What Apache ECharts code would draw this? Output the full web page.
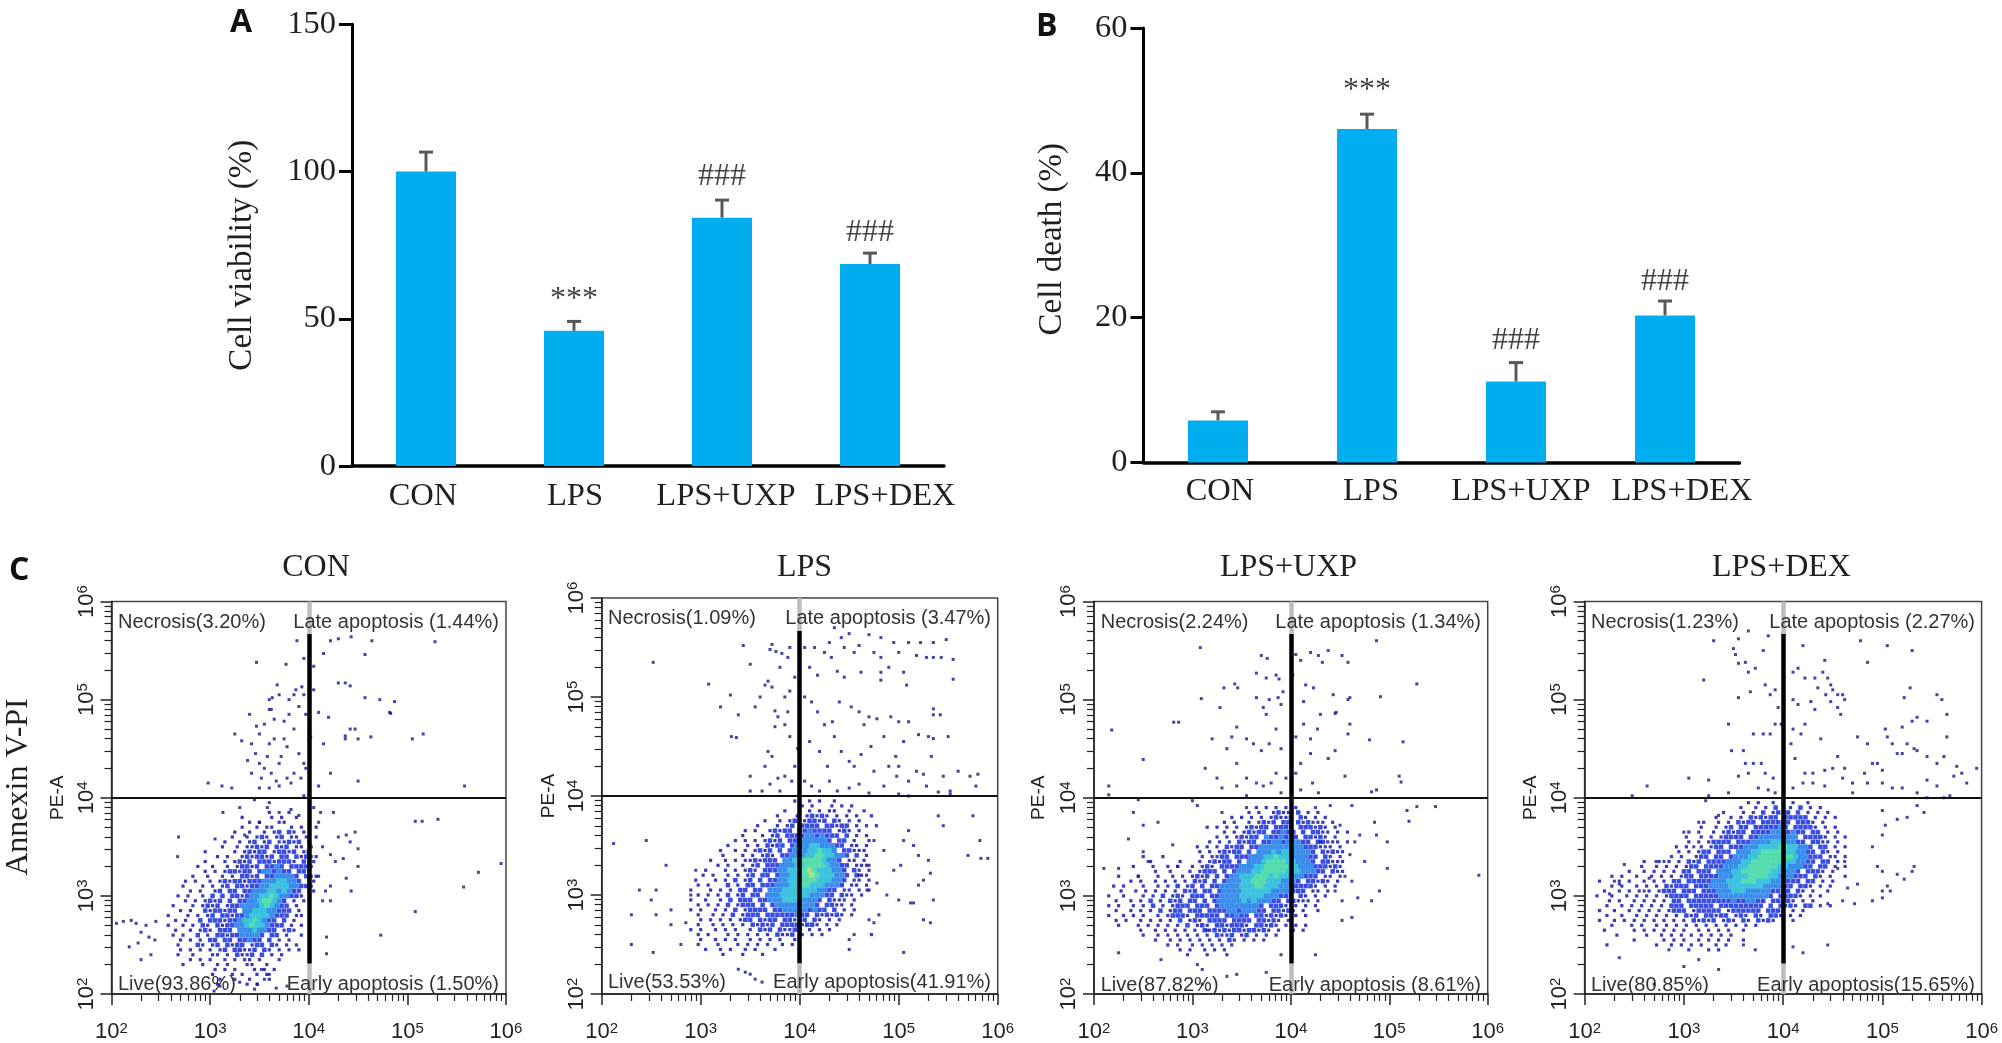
<!DOCTYPE html>
<html><head><meta charset="utf-8">
<style>html,body{margin:0;padding:0;background:#fff}#c{width:2002px;height:1043px}</style>
<script src="https://cdn.jsdelivr.net/npm/echarts@6/dist/echarts.min.js"></script>
</head><body><div id="c"></div>
<script>
const groups = ['CON','LPS','LPS+UXP','LPS+DEX'];
const viabilityMean = [100,45.9,84.3,68.6];
const viabilityUpper = [106.6,49.1,90.3,72.3];
const viabilitySig = ['', '***','###','###'];
const viabilitySigAt = [0,56.5,98.3,79.4];
const deathMean = [5.8,46.05,11.2,20.3];
const deathUpper = [7.0,48.1,13.8,22.3];
const deathSig = ['', '***','###','###'];
const deathSigAt = [0,51.3,16.9,25];

const necrosis = ['3.20','1.09','2.24','1.23'];
const late = ['1.44','3.47','1.34','2.27'];
const live = ['93.86','53.53','87.82','80.85'];
const early = ['1.50','41.91','8.61','15.65'];
const earlyGap = [' ','',' ',''];

// binned density: one string per row, level per 0.05-decade hex cell
const conStart = [2.5,3.85];
const conRaster = [
"......................1...1.....",
"................1.....1.1..1....",
"..................1.1...11......",
"................1..1.11...1.1..1",
"...............1..1..1.12.21.1..",
"..............1..1.121.12.11.1.1",
".............1..1.12.12.11212.1.",
"............1..1.11212.212.11.1.",
".........1.....1.12122.12212.12.",
"...........1.1..1212212.22.21211",
".........1...1.1212.22212221.211",
".......1..1..1.12212.2232.22221.",
".........1.1.122122.2332322.221.",
"......1..1..1.1.2212.2233332.211",
".....1.1..1.12122122233344332.11",
"....1...1.1.12.2212233444433221.",
"......1.1..12.22.223334434322.11",
"...1.1..1.2.2.221233445433221...",
".....1.1.1212.2.2233455432.1.1..",
"..1...1.1212.1223333454322.1....",
"....1.1..2122122.3344433222.1...",
".1...1.1.12.22122344443222.11...",
"...1.1..2.22212234454322.2.1....",
".1..1.1.21.21223345443222.1.1...",
"...1..1.121.222.33343322.121....",
"..1.1..2.1.2212233332.22.1..1...",
"....1.1.1.22.22.22322.2.1.1.....",
"...1...21.12.2122.122.21.1.1....",
"....1.1.1.1.12.22112.21.1.1.1...",
"...1..1...11.1.2112.2.1.1.......",
"......1.1.1..1.1.11.1...1.......",
"....1...1..1.1...11..1..........",
"...........1.1.1...1.1.1........",
"..........1...1.1..1.1..........",
"............1..1..1...1.........",
"...........1.....1.1............"];
const lpsStart = [2.8,3.95];
const lpsRaster = [
".......................1..1.1..1.......",
"........................1.1...1.1.1....",
".....................1..1.1.1.11..1..1.",
"...................1...1.12121.1.1.1..1",
".................1..1.12.12212.21.1.1..",
"...............1...1.12.2222.22122.1.1.1",
".............1.1..12122.2232222.121.1..",
"............1...1.12.22223323222.2.1.1.",
"...........1.1.1.1212.223333332.22.1..1",
".........1...1.1.2122.23334433322.11.1.",
"........1..1.1.1212.2.2333445443.22111.",
"........1...1.1.121.22333445544332.2.1.",
"......1..1.1.1121222.334455554332.11.1.",
".......1.1..1.12.22233344555543322.111.",
".....1...1.1.121.22233445565444332.21.1",
"....1.1..1.1.12.22.233445565444332.211.",
"...1...1.1.2.12.2.2233445555444332.11.1",
"...1.1...2.1.22.22233344554443332.11.1.",
"..1...1.1.1.22.22.33344454443322.11.1.1",
"...1.1.1.2.12.22.33344444433322.211.1..",
"..1..1..1.2.222.2233344443332.2111.1...",
"...1.1.1.2.1222.2.2333333332.2211.1....",
"..1.1..1.1.2.12222.22333332322.2.1.1...",
"...1..1.1.2.1222.222222322.212121.1....",
"....1.1.1.1.122.2122.22122.21.1.1......",
"...1..1.1.1.1.21212.22221221.1.1.......",
"..1.1..1.1.1..1.212.21122.1.1.1........",
"...1.1...1.1.1.1.1.2112.1.1.1.........1",
"....1..1.1.1..1.1.1.1..1...............",
"...1...1...1.1.1.1..1.1................",
".....1..1.1..1.1...1...................",
"........1...1...1......................"];
const uxpStart = [2.1,3.90];
const uxpRaster = [
"...............................1.1.1.1.1........",
".............................1.1..1211.2.1.1.....",
"..........................1.1.1.1.12112.21.1.1...",
"........................1.1..1.1212.22.212111.1..",
".....................1.1.1.1.12122.2222.222121.1.",
"........................1.1.12122.22322.2.2211.1.1",
".......................1.1.12122.3223232.22121.1.",
".....................1.1.1.2122.2233233322.22111.1",
"...................1.1.1.2122.22333333333222111.1",
"...................1.1.12122.2.333434433332.21211.",
"........1...1.......1.1122.22233344544433322.21.1.",
".........1.....1...1.12122.2.33345555443332.22111.",
"......1...1..1.1..1.121.2222333445555544333222121.",
"..........1..1...1.1222.2.2333445555544433322.211.",
"...1...1...1..1.1.1212.2.2334445554544333222.11.1.",
".....1.1..1.1.1.1.212.2.2333445554443332.22121.1..",
"..1.1...1..1.1.2.12.2.2233334445544433322221.1.1..",
"...1..1.1.1.1.1.212.22.233334444443333222.11.1....",
".1..1...1.1.2.121.222.22333344444333222.21.1.1....",
"..1..1.1.2.1.212.22.2.23333343433322.22111.1......",
".1.1..1.1.2.1.1222.222.2333333332.222111.1.1......",
"..1..1.1.1.2.122.222.222233233322.22121.1..1......",
".1..1.1.1..1.12221.22222.22322.2212121.1.1........",
"..1.1..1.1.1.1.2.121.2222.2222.22121.1............",
"...1...1.1.1.1.1.2.121.2212221.22121.1.1.1........",
".......1..1.1.1.1.1.21212122122121.1..1.1.........",
"........1..1.1.1.1.1.1.2112.12.1.1.1..............",
"..........1..1.1.1.1.1.1.21.1.1.1.................",
".............1.1..1.1.1.1.1.......................",
"...............1.1..1.1.1.........................",
".................1...1...1........................"];
const dexStart = [2.1,3.95];
const dexRaster = [
"...............................1.1..1.1.1..1......",
".............................1..1.1.2..1.2.1.1.....",
"..........................1...1.1.2.12.2.2.1.1.1..",
"........................1..1.1.212122.22222.1.1.1.",
"......................1..1.1.2122.222222.2221.1...",
".....................1..1.12.22.2222232.22221.1.1.",
"...................1.1..1.12122.22223332322.22.1.1.",
"..................1..1.1.12222.2233333333.22221.1.1",
"...................1.1.12222.22233334433322.2211.1.",
"................1.1..1.122.22233344445544332.22.1.1",
".................1.1.122.222.3334455555443322.21.1",
"...............1.1..122.22.2333445555555433222.11.1",
"..........1..1.1.1.212.2222333445555555443322.22.1.",
".........1..1.1.1.122.2222333445555554433322.22.1.1",
".......1..1.1.1.1.22.222.33344555555443332.2221.1..",
"...1.1..1..1.1.1.122.2222333444555544333222.21.1..1",
".1...1.1..1.1.1.22.22222333444555444333222.22.1.1..",
"...1.1..1.1.1.21222.22233334444444333322.221.1.1...",
"..1..1.1.1.1.1222.222.222333444333332222.21.1..1...",
"1..1..1.1.1.1.12222.2222233333333332.22221.1.1.....",
"...1.1..1.1.1.1.22.2222222223223322.22221.1.1......",
"..1..1.1.1.1.1.222.22222.222222222.2.2121.22.1.1...",
".1..1..1.1.1.1.1222.122222.1222222.2221.1.1........",
"..1..1..1.1.1.1.1.212.22122.121.21.221.1.1.........",
".1..1.1.1.1.1.1.1.1.21212.121.21.2121.1.1..........",
"...1...1.1..1.1.1.1.1.1.1.1.1.1.1..................",
"..1.....1.1.1.1.1.1..1.1.1.1..1....................",
"....1.....1..1.1.1.1.1.1.1.1.......................",
"........1.....1.1.1..1.1.1.1..1....................",
"..1.........1..1.1.1.1..1.1........................",
"...................1...1.1........................."];

// sparse events: [log10 x, log10 y]
const conDots = [[3.47,5.38],[3.77,5.36],[3.87,5.1],[3.95,5.42],[3.88,5.6],[4.15,5.47],[4.05,5.34],[4.22,5.6],[4.3,5.62],[4.43,5.64],[4.64,5.6],[5.28,5.59],[4.57,5.46],[4.3,5.17],[4.37,5.17],[4.42,5.14],[4.57,5.02],[4.72,5.0],[4.87,4.98],[3.6,5.0],[3.63,5.02],[3.68,5.15],[3.7,5.05],[3.8,5.0],[3.85,5.05],[3.93,5.13],[3.95,5.05],[4.05,5.1],[3.4,4.85],[3.47,4.73],[3.6,4.9],[3.65,4.8],[3.75,4.78],[3.8,4.85],[3.9,4.93],[3.97,4.85],[4.1,4.87],[4.2,4.82],[4.42,4.7],[4.5,4.6],[4.47,4.7],[4.63,4.62],[5.05,4.6],[5.16,4.65],[3.25,4.65],[3.32,4.58],[3.42,4.55],[3.5,4.65],[3.6,4.55],[3.65,4.6],[3.75,4.6],[3.85,4.7],[3.9,4.45],[3.97,4.3],[4.02,4.62],[4.15,4.55],[4.22,4.25],[4.37,4.6],[4.37,4.63],[3.38,4.38],[3.42,4.25],[3.5,4.35],[3.55,4.3],[3.62,4.25],[3.7,4.35],[3.78,4.2],[3.85,4.25],[3.95,4.35],[4.1,4.12],[4.5,4.17],[5.58,4.12],[2.98,4.15],[3.12,4.12],[3.22,4.1],[3.5,4.1],[3.6,4.1],[3.7,4.12],[3.82,4.15],[3.95,4.02],[4.83,4.86],[4.82,4.87],[3.62,4.9],[3.55,4.75],[3.78,4.52],[3.72,4.42],[3.58,4.42],[3.46,4.45],[3.52,4.2],[3.67,4.17],[3.92,4.2],
[5.08,3.76],[5.15,3.76],[5.31,3.78],[5.95,3.33],[5.72,3.24],[5.57,3.09],[5.08,2.84],[4.73,2.6],[4.18,2.58],[4.18,2.41],[4.14,3.5],[4.22,3.42],[4.3,3.6],[4.38,3.62],[4.47,3.65],[4.42,3.55],[4.5,3.48],[4.27,3.35],[4.35,3.38],[4.1,3.2],[4.17,3.05],[4.22,3.1],[4.38,3.18],[4.43,3.05],[4.14,2.95],[4.22,2.95],[4.5,3.3],[4.1,3.75],[4.25,3.85],[4.12,3.85],[4.05,3.9],[3.6,3.95],[3.7,3.85],[3.82,3.88],[3.9,3.82],[3.45,3.98],[3.13,3.85],[3.3,3.9],[3.58,3.9],[3.5,3.75],[3.35,3.62],[2.68,3.6],[2.67,3.4],[3.05,3.58],
[3.04,2.03],[3.1,2.08],[3.45,2.05],[3.48,2.1],[3.55,2.15],[3.67,2.06],[3.6,2.2],[3.52,2.25],[3.3,2.12],[3.78,2.08],[2.05,2.72],[2.12,2.74],[2.2,2.75],[2.3,2.63],[2.25,2.72],[2.35,2.7],[2.44,2.55],[2.38,2.58],[2.45,2.74],[2.18,2.48],[2.27,2.52],[2.4,2.4],[2.3,2.35]];
const lpsDots = [[2.52,5.35],[3.08,5.13],[3.3,5.02],[3.2,4.9],[3.38,4.82],[3.31,4.6],[3.36,4.59],[3.5,5.33],[3.43,5.52],[3.7,5.48],[3.72,5.53],[3.76,5.46],[3.82,5.44],[3.9,5.5],[3.65,5.12],[3.68,5.16],[3.72,5.1],[3.8,5.3],[3.88,5.4],[3.95,5.2],[3.9,5.06],[3.85,5.0],[3.75,4.86],[3.78,4.8],[3.85,4.72],[3.88,4.85],[3.6,5.0],[3.55,4.9],[3.75,4.7],[3.9,4.6],[3.98,4.48],[3.72,4.4],[3.65,4.3],[3.68,4.45],[3.5,4.2],[3.62,4.05],[3.5,4.05],[3.7,4.12],[3.78,4.18],[3.85,4.2],[3.92,4.15],[3.8,4.05],[3.95,4.3],[4.05,5.5],[4.1,5.3],[4.15,5.5],[4.18,5.22],[4.25,5.45],[4.3,5.55],[4.32,5.4],[4.35,5.7],[4.38,5.26],[4.42,5.6],[4.45,5.5],[4.5,5.64],[4.55,5.45],[4.6,5.52],[4.62,5.25],[4.7,5.63],[4.75,5.45],[4.82,5.6],[4.82,5.4],[4.82,5.25],[4.82,5.17],[4.9,5.3],[4.95,5.55],[5.0,5.45],[5.05,5.25],[5.08,5.12],[5.1,5.55],[5.18,5.42],[5.22,5.55],[5.28,5.4],[5.35,5.55],[5.35,5.4],[5.43,5.4],[5.48,5.58],[5.55,5.18],[5.55,5.38],[4.05,5.0],[4.12,4.95],[4.18,4.85],[4.25,4.72],[4.33,4.75],[4.4,4.95],[4.45,5.2],[4.52,4.9],[4.6,4.85],[4.65,4.72],[4.7,4.8],[4.78,4.78],[4.85,4.6],[4.92,4.8],[5.0,4.75],[5.05,4.55],[5.1,4.75],[5.2,4.62],[5.3,4.6],[5.35,4.58],[5.33,4.4],[5.35,4.88],[5.42,4.82],[5.35,4.82],[5.5,4.6],[4.1,4.55],[4.2,4.45],[4.28,4.3],[4.35,4.6],[4.42,4.45],[4.5,4.35],[4.55,4.3],[4.62,4.42],[4.72,4.5],[4.75,4.25],[4.9,4.3],[4.97,4.4],[5.0,4.3],[4.98,4.2],[5.1,4.15],[5.18,4.25],[5.25,4.22],[5.28,4.1],[5.45,4.2],[5.52,4.05],[5.6,4.25],[5.72,4.2],[5.78,4.1],[5.8,4.22],[4.05,4.15],[4.12,4.1],[4.2,4.05],[4.3,4.15],[4.38,4.05],[4.5,4.08],[4.6,4.12],[4.7,4.03],[4.85,4.1],[5.0,4.02],[5.1,4.0],[5.4,4.04],[5.52,4.02],
[5.75,3.8],[5.82,3.55],[5.7,3.4],[5.9,3.37],[5.83,3.37],[5.4,3.8],[5.45,3.7],[5.1,3.65],[5.05,3.55],[5.15,3.5],[5.2,3.4],[5.3,3.35],[5.32,3.22],[5.25,3.15],[5.2,3.1],[4.95,3.25],[5.02,3.3],[4.85,3.45],[4.75,3.55],[4.7,3.3],[4.6,3.2],[4.68,3.05],[4.78,3.12],[4.88,3.0],[5.0,2.95],[5.15,2.92],[5.12,2.92],[5.35,2.95],[5.25,2.75],[5.32,2.72],[4.8,2.8],[4.7,2.75],[4.75,2.72],[4.55,2.6],[4.5,2.45],[4.5,2.55],[5.05,2.42],[2.12,3.52],[2.45,3.55],[2.65,3.3],[2.95,3.25],[2.55,3.05],[2.38,3.05],[2.5,2.95],[2.7,2.85],[2.3,2.8],[2.55,2.8],[2.7,2.7],[2.3,2.5],[2.52,2.42],[2.8,2.5],[2.85,2.72],[2.9,3.0],[3.38,2.25],[3.45,2.22],[3.5,2.2],[3.55,2.15],[3.62,2.12]];
const uxpDots = [[3.08,5.53],[4.87,5.6],[5.28,5.16],[4.91,5.03],[4.45,4.86],[4.46,4.87],[2.81,4.77],[2.86,4.77],[2.18,4.69],[2.5,4.39],[2.15,4.12],[2.15,4.03],[3.09,5.01],[4.8,4.59],[5.14,4.57],[5.1,4.22],[5.12,4.16],[4.82,4.06],[4.87,4.08],[5.91,3.21],[4.98,3.28],[5.47,3.91],[5.28,3.91],[5.18,3.87],[5.2,3.76],[3.7,5.45],[3.76,5.42],[3.65,5.27],[3.32,5.12],[3.43,5.16],[3.46,5.12],[3.65,5.02],[3.75,5.22],[3.85,5.25],[3.88,5.21],[3.92,5.08],[3.87,5.02],[3.78,5.0],[3.75,4.85],[3.72,4.92],[3.9,4.95],[4.02,5.25],[4.05,5.46],[4.1,5.4],[4.2,5.48],[4.28,5.45],[4.38,5.5],[4.32,5.38],[4.58,5.38],[4.52,5.45],[4.23,5.12],[4.15,5.15],[4.43,5.05],[4.13,4.98],[4.3,4.85],[4.58,5.0],[4.6,5.02],[3.28,4.92],[3.45,4.72],[3.4,4.62],[3.35,4.5],[3.2,4.6],[3.45,4.35],[3.55,4.6],[3.62,4.55],[3.7,4.48],[3.78,4.55],[3.85,4.7],[3.9,4.5],[4.05,4.62],[4.13,4.75],[4.2,4.6],[4.27,4.7],[4.1,4.35],[4.2,4.45],[4.38,4.4],[4.45,4.48],[4.58,4.65],[4.6,4.75],[4.55,4.22],[3.13,4.3],[3.25,4.2],[3.3,4.1],[3.45,4.12],[3.55,4.02],[3.65,4.15],[3.72,4.12],[3.8,4.15],[3.85,4.25],[3.95,4.2],[3.55,4.2],[3.9,4.05],[4.05,4.25],[4.1,4.08],[4.22,4.15],[4.28,4.05],[2.45,3.98],[3.0,3.97],
[4.85,3.75],[4.87,3.62],[4.98,3.55],[4.7,3.62],[4.65,3.55],[4.75,3.35],[4.55,3.2],[4.62,3.15],[4.45,3.05],[4.52,2.95],[4.52,2.75],[4.82,2.95],[4.9,3.05],[4.62,2.78],[4.68,2.98],[4.6,3.42],[4.5,3.72],[4.62,3.92],[4.4,3.92],[4.25,3.9],[4.3,3.55],[2.4,3.85],[2.5,3.72],[2.35,3.58],[2.5,3.45],[2.8,3.52],[2.55,3.35],[2.25,3.28],[2.1,3.28],[2.85,3.3],[2.45,3.2],[2.65,3.75],[3.05,3.92],[3.3,3.85],[3.55,3.9],[2.25,2.42],[2.68,2.35],[3.05,2.3],[3.1,2.25],[3.1,2.1],[3.35,2.18],[3.45,2.2],[3.75,2.22],[3.15,2.65],[4.25,2.4],[3.9,2.4]];
const dexDots = [[3.3,5.6],[3.85,5.65],[3.65,5.7],[3.55,5.62],[3.5,5.52],[3.52,5.46],[3.55,5.37],[3.62,5.38],[3.65,5.28],[3.8,5.5],[3.72,5.32],[3.2,5.2],[3.55,5.02],[3.82,5.15],[3.67,5.08],[3.92,5.1],[3.87,5.05],[3.95,4.92],[3.92,4.75],[3.45,4.75],[3.7,4.65],[3.8,4.65],[3.87,4.65],[3.98,4.75],[4.1,5.28],[4.15,5.32],[4.22,5.22],[4.2,5.55],[4.32,5.22],[4.35,5.12],[4.42,5.4],[4.4,5.28],[4.45,5.22],[4.48,5.15],[4.43,5.05],[4.5,5.1],[4.55,5.05],[4.6,5.05],[4.48,4.98],[4.55,4.92],[4.62,5.0],[4.1,5.0],[4.15,4.95],[4.28,4.98],[4.32,4.9],[4.58,4.85],[4.1,4.7],[4.18,4.65],[4.22,4.75],[4.38,4.6],[4.08,4.55],[4.78,5.6],[4.85,5.38],[5.05,5.55],[5.3,5.5],[5.28,5.12],[5.22,5.02],[5.03,4.7],[5.2,4.72],[5.35,4.82],[5.3,4.78],[5.45,4.78],[5.55,5.05],[5.6,5.0],[5.65,4.85],[5.65,4.62],[5.05,4.62],[5.1,4.55],[5.25,4.55],[5.32,4.5],[5.15,4.45],[5.2,4.45],[5.35,4.48],[5.45,4.42],[5.55,4.35],[5.62,4.42],[5.75,4.32],[5.95,4.3],[5.8,4.25],[5.72,4.22],[5.85,4.15],[5.45,4.18],[5.55,4.12],[5.35,4.05],[5.2,4.1],[4.75,4.62],[4.85,4.55],[4.9,4.35],[4.95,4.35],[5.0,4.28],[4.82,4.25],[4.7,4.15],[4.7,4.05],[4.85,4.15],[5.0,4.15],[5.1,4.1],[5.45,4.0],[5.62,4.0],[5.68,4.02],[4.55,4.42],[4.5,4.3],[4.62,4.3],[4.6,4.2],[4.42,4.28],[4.3,4.25],[4.3,4.15],[4.2,4.15],[4.12,4.4],[4.22,4.25],[4.1,4.1],[4.42,4.12],[3.48,4.48],[3.6,4.48],[3.62,4.35],[3.7,4.35],[3.65,4.25],[3.55,4.22],[3.78,4.35],[3.82,4.25],[3.9,4.2],[3.75,4.1],[3.85,4.08],[3.92,4.05],[3.45,4.05],[3.25,4.18],[3.05,4.2],[2.63,4.12],[2.48,4.02],[3.25,4.02],[3.22,3.97],
[5.35,3.92],[5.42,3.85],[5.25,3.8],[5.15,3.78],[5.0,3.87],[5.03,3.72],[5.0,3.62],[4.9,3.5],[4.95,3.3],[5.0,3.25],[5.15,3.22],[5.22,3.17],[5.32,3.3],[5.3,3.25],[5.05,3.1],[5.08,3.05],[5.0,3.05],[4.75,3.12],[4.65,3.08],[4.72,2.92],[4.9,2.95],[5.0,2.98],[4.55,3.28],[4.62,3.35],[4.6,2.95],[4.45,2.92],[2.4,3.32],[2.65,3.18],[2.35,3.12],[2.6,3.05],[2.25,3.02],[2.3,3.15],[2.8,3.35],[2.72,3.35],[3.1,3.5],[3.0,3.65],[3.15,3.75],[3.35,3.82],[3.15,2.35],[3.35,2.25],[2.7,2.1],[2.35,2.37],[2.85,2.45],[4.45,2.5],[4.2,2.42],[4.1,2.48],[3.6,2.5],[3.72,2.45],[3.0,2.28]];

const bandsLateTop = 5.67, bandsEarlyBottom = 2.31;
const panelNames = ['CON','LPS','LPS+UXP','LPS+DEX'];
const decades = [2,3,4,5,6];
const minorVals = [];
decades.slice(0,4).forEach(d=>{for(let m=2;m<=9;m++) minorVals.push(d+Math.log10(m));});
const rasters = [[conStart,conRaster],[lpsStart,lpsRaster],[uxpStart,uxpRaster],[dexStart,dexRaster]];
const dotSets = [conDots,lpsDots,uxpDots,dexDots];

const levelColors = {1:'#0a0aa8',2:'#0820d8',3:'#0870e6',4:'#0cb4d4',5:'#30d49c',6:'#98d850'};
const levelSizes = {1:3.2,2:4.5,3:5,4:5.2,5:5.2,6:5};
function cells(start,rows){
  const out=[];
  rows.forEach((r,j)=>{ for(let i=0;i<r.length;i++){ const ch=r[i]; if(ch!=='.') out.push([start[0]+0.05*(i+(j%2)*0.5),start[1]-0.05*j,+ch]); } });
  return out;
}

const serif='"Liberation Serif","Times New Roman",serif';
const sans='"Liberation Sans",Arial,sans-serif';
const ink='#231f20';

const barPanels=[
 {rect:{left:352,top:24.3,width:592,height:441.7},max:150,interval:50,name:'Cell viability (%)',mean:viabilityMean,up:viabilityUpper,sig:viabilitySig,sigAt:viabilitySigAt,
  labelShift:[-6,2,8,30],gap:93,namePad:[0,20,0,0],cm:14},
 {rect:{left:1143.5,top:28,width:596,height:434.5},max:60,interval:20,name:'Cell death (%)',mean:deathMean,up:deathUpper,sig:deathSig,sigAt:deathSigAt,
  labelShift:[4,8,10,34],gap:75,namePad:[0,0,0,12],cm:12}
];
const flowPanels=[
 {rect:{left:111.5,top:601.5,width:394.5,height:397.5},txt:[118,499,623.5,985.5],title:311,pe:58},
 {rect:{left:601.7,top:598,width:396,height:398},txt:[608,991,619.5,983.5],title:799.5,pe:549},
 {rect:{left:1094,top:601.5,width:393.7,height:397.5},txt:[1100.7,1481,623.5,986.5],title:1283.5,pe:1039},
 {rect:{left:1584.6,top:601.5,width:397,height:397.5},txt:[1591,1975,623.5,986.5],title:1776.5,pe:1531}
];

const grid=[],xAxis=[],yAxis=[],series=[],graphic=[],title=[];
barPanels.forEach((p,k)=>{
  grid.push(Object.assign({},p.rect));
  xAxis.push({type:'category',gridIndex:grid.length-1,
    data:groups.map((g,i)=>({value:g,textStyle:{padding:p.labelShift[i]>=0?[0,0,0,p.labelShift[i]]:[0,-p.labelShift[i],0,0]}})),
    axisLine:{lineStyle:{color:'#000',width:3.5}},axisTick:{show:false},
    axisLabel:{interval:0,margin:p.cm,fontFamily:serif,fontSize:32.5,color:ink}});
  yAxis.push({type:'value',gridIndex:grid.length-1,min:0,max:p.max,interval:p.interval,
    name:p.name,nameLocation:'middle',nameGap:p.gap,nameRotate:90,nameTextStyle:{fontFamily:serif,fontSize:33,color:ink,padding:p.namePad},
    splitLine:{show:false},axisLine:{show:true,lineStyle:{color:'#000',width:3}},
    axisTick:{show:true,length:13,lineStyle:{color:'#000',width:3}},
    axisLabel:{margin:16,fontFamily:serif,fontSize:32.5,color:ink}});
  const gi=grid.length-1;
  series.push({type:'bar',xAxisIndex:gi,yAxisIndex:gi,data:p.mean,barWidth:60,itemStyle:{color:'#00aeef'},z:2});
  series.push({type:'custom',xAxisIndex:gi,yAxisIndex:gi,z:1,
    data:p.mean.map((m,i)=>[i,m,p.up[i]]),
    encode:{x:0,y:[1,2]},
    renderItem:(params,api)=>{
      const a=api.coord([api.value(0),api.value(1)]), b=api.coord([api.value(0),api.value(2)]);
      const st={stroke:'#58595b',lineWidth:3};
      return {type:'group',children:[
        {type:'line',shape:{x1:a[0],y1:a[1],x2:b[0],y2:b[1]},style:st},
        {type:'line',shape:{x1:b[0]-7,y1:b[1],x2:b[0]+7,y2:b[1]},style:st}]};
    }});
  series.push({type:'scatter',xAxisIndex:gi,yAxisIndex:gi,symbolSize:0,z:3,
    data:p.sig.map((s,i)=>({value:[i,p.sigAt[i]],label:{show:!!s,formatter:s}})),
    label:{position:'inside',fontFamily:serif,fontSize:32,color:'#111'}});
});
flowPanels.forEach((p,k)=>{
  grid.push(Object.assign({show:true,borderColor:'#444',borderWidth:1.5,backgroundColor:'#fff'},p.rect));
  const gi=grid.length-1;
  const lab=v=>`{a|10}{s|${v}}`;
  const rich={a:{fontFamily:sans,fontSize:22,color:'#222'},s:{fontFamily:sans,fontSize:15,color:'#222',verticalAlign:'top',lineHeight:22,padding:[0,0,6,0]}};
  const common={type:'value',gridIndex:gi,min:2,max:6,interval:1,splitLine:{show:false},
    axisLine:{show:true,onZero:false,lineStyle:{color:'#222',width:1.5}},
    axisTick:{show:true,length:11,lineStyle:{color:'#222',width:1.5}}};
  xAxis.push(Object.assign({},common,{position:'bottom',axisLabel:{margin:27,formatter:lab,rich}}));
  yAxis.push(Object.assign({},common,{position:'left',axisLabel:{margin:14,rotate:90,formatter:lab,rich},
    name:'PE-A',nameLocation:'middle',nameRotate:90,nameGap:p.rect.left-p.pe-9,nameTextStyle:{fontFamily:sans,fontSize:19,color:'#222'}}));
  xAxis.push(Object.assign({},common,{position:'bottom',axisLine:{show:false},axisLabel:{show:false},
    axisTick:{show:true,length:7,customValues:minorVals,lineStyle:{color:'#222',width:1.2}}}));
  yAxis.push(Object.assign({},common,{position:'left',axisLine:{show:false},axisLabel:{show:false},
    axisTick:{show:true,length:7,customValues:minorVals,lineStyle:{color:'#222',width:1.2}}}));
  const xi=xAxis.length-2, yi=yAxis.length-2;
  const [st,rows]=rasters[k];
  series.push({type:'scatter',xAxisIndex:xi,yAxisIndex:yi,symbol:'rect',z:2,silent:true,
    data:cells(st,rows),
    symbolSize:d=>levelSizes[d[2]],
    itemStyle:{color:q=>levelColors[q.data[2]]}});
  series.push({type:'scatter',xAxisIndex:xi,yAxisIndex:yi,symbol:'rect',symbolSize:3,z:2,silent:true,
    data:dotSets[k],itemStyle:{color:'#14148c'},
    markLine:{silent:true,symbol:'none',label:{show:false},animation:false,z:4,data:[
      [{coord:[4,2],lineStyle:{color:'#bdbdbd',width:4.5,type:'solid'}},{coord:[4,bandsEarlyBottom]}],
      [{coord:[4,bandsEarlyBottom],lineStyle:{color:'#000',width:4.5,type:'solid'}},{coord:[4,bandsLateTop]}],
      [{coord:[4,bandsLateTop],lineStyle:{color:'#bdbdbd',width:4.5,type:'solid'}},{coord:[4,6]}],
      [{coord:[2,4],lineStyle:{color:'#111',width:2,type:'solid'}},{coord:[6,4]}]
    ]}});
  title.push({text:panelNames[k],left:p.title,top:547,textAlign:'center',textStyle:{fontFamily:serif,fontSize:32,fontWeight:'normal',color:ink}});
  const t=p.txt, ts={fontFamily:sans,fontSize:20,fill:'#333'};
  graphic.push({type:'text',left:t[0],top:t[2]-11,z:10,style:Object.assign({text:`Necrosis(${necrosis[k]}%)`},ts)});
  graphic.push({type:'text',right:2002-t[1],top:t[2]-11,z:10,style:Object.assign({text:`Late apoptosis (${late[k]}%)`},ts)});
  graphic.push({type:'text',left:t[0],top:t[3]-11,z:10,style:Object.assign({text:`Live(${live[k]}%)`},ts)});
  graphic.push({type:'text',right:2002-t[1],top:t[3]-11,z:10,style:Object.assign({text:`Early apoptosis${earlyGap[k]}(${early[k]}%)`},ts)});
});
const letter={fontFamily:'"Open Sans",sans-serif',fontWeight:'bold',fontSize:32,fill:'#111'};
graphic.push({type:'text',left:230,top:7,style:Object.assign({text:'A'},letter)});
graphic.push({type:'text',left:1036,top:11,style:Object.assign({text:'B'},letter)});
graphic.push({type:'text',left:9,top:555,style:Object.assign({text:'C'},letter)});
graphic.push({type:'text',x:19,y:787,rotation:Math.PI/2,style:{text:'Annexin V-PI',fontFamily:serif,fontSize:32,fill:ink,align:'center',verticalAlign:'middle'}});

const chart=echarts.init(document.getElementById('c'),null,{renderer:'canvas'});
chart.setOption({animation:false,backgroundColor:'#fff',title,grid,xAxis,yAxis,series,graphic});
</script></body></html>
